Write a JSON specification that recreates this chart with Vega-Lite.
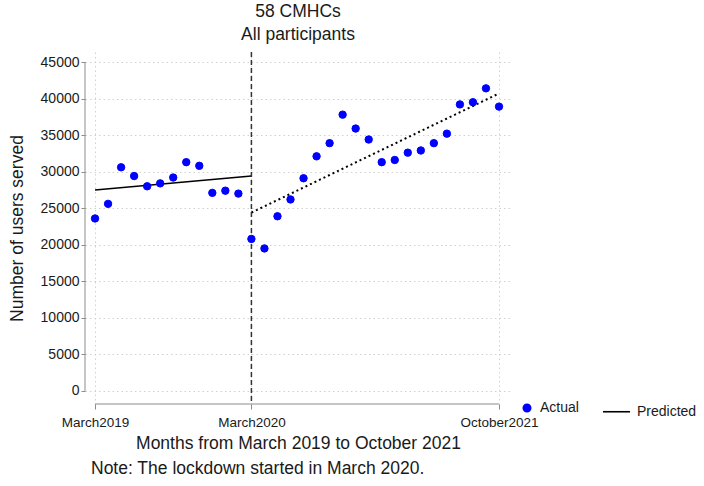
{
  "$schema": "https://vega.github.io/schema/vega-lite/v6.json",
  "padding": {"left": 8, "top": 2, "right": 5, "bottom": 5},
  "background": "white",
  "config": {
    "font": "Liberation Sans",
    "view": {"stroke": null},
    "axis": {"labelColor": "#1a1a1a", "titleColor": "#1a1a1a", "titleFontWeight": "normal", "labelFont": "Liberation Sans", "titleFont": "Liberation Sans", "labelOverlap": false},
    "legend": {"labelColor": "#1a1a1a", "labelFont": "Liberation Sans"}
  },
  "datasets": {
    "actual": [
      {"month": 0, "users": 23600},
      {"month": 1, "users": 25600},
      {"month": 2, "users": 30600},
      {"month": 3, "users": 29400},
      {"month": 4, "users": 28000},
      {"month": 5, "users": 28400},
      {"month": 6, "users": 29200},
      {"month": 7, "users": 31300},
      {"month": 8, "users": 30800},
      {"month": 9, "users": 27100},
      {"month": 10, "users": 27400},
      {"month": 11, "users": 27000},
      {"month": 12, "users": 20800},
      {"month": 13, "users": 19500},
      {"month": 14, "users": 23900},
      {"month": 15, "users": 26200},
      {"month": 16, "users": 29100},
      {"month": 17, "users": 32100},
      {"month": 18, "users": 33900},
      {"month": 19, "users": 37800},
      {"month": 20, "users": 35900},
      {"month": 21, "users": 34400},
      {"month": 22, "users": 31300},
      {"month": 23, "users": 31600},
      {"month": 24, "users": 32600},
      {"month": 25, "users": 32900},
      {"month": 26, "users": 33900},
      {"month": 27, "users": 35200},
      {"month": 28, "users": 39200},
      {"month": 29, "users": 39500},
      {"month": 30, "users": 41400},
      {"month": 31, "users": 38900}
    ],
    "pre": [
      {"month": 0, "predicted": 27500},
      {"month": 12, "predicted": 29400}
    ],
    "post": [
      {"month": 12, "predicted": 24400},
      {"month": 31, "predicted": 40700}
    ],
    "lockdown": [
      {"month": 12}
    ]
  },
  "title": {
    "text": "Note: The lockdown started in March 2020.",
    "orient": "bottom",
    "anchor": "start",
    "frame": "group",
    "dx": 6,
    "offset": 8,
    "fontSize": 17.5,
    "fontWeight": "normal",
    "color": "#1a1a1a",
    "font": "Liberation Sans"
  },
  "vconcat": [
    {
      "width": 426,
      "height": 352,
      "title": {
        "text": ["58 CMHCs", "All participants"],
        "anchor": "middle",
        "frame": "group",
        "fontSize": 17.5,
        "fontWeight": "normal",
        "lineHeight": 23,
        "color": "#1a1a1a",
        "offset": 8,
        "font": "Liberation Sans"
      },
      "layer": [
        {
          "data": {"values": [{}]},
          "mark": {"type": "rule", "color": "#8c8c8c", "strokeWidth": 1},
          "encoding": {
            "x": {
              "datum": -0.77,
              "type": "quantitative",
              "scale": {"domain": [-0.77, 31.92], "nice": false, "zero": false},
              "axis": {
                "values": [0, 12, 31],
                "labelExpr": "datum.value == 0 ? 'March2019' : datum.value == 12 ? 'March2020' : 'October2021'",
                "title": "Months from March 2019 to October 2021",
                "titleFontSize": 17.5,
                "titlePadding": 6,
                "labelFontSize": 13.5,
                "labelPadding": 6,
                "labelFlush": false,
                "labelOverlap": false,
                "domain": false,
                "tickColor": "#8c8c8c",
                "tickSize": 5,
                "grid": true,
                "gridColor": "#d0d0d0",
                "gridDash": [1.5, 3],
                "gridWidth": 1
              }
            },
            "y": {
              "datum": 0,
              "type": "quantitative",
              "scale": {"domain": [-1780, 46370], "nice": false, "zero": false},
              "axis": {
                "tickCount": 10,
                "tickMinStep": 5000,
                "format": ".0f",
                "title": "Number of users served",
                "titleFontSize": 17.5,
                "titlePadding": 14,
                "labelFontSize": 14,
                "labelPadding": 2,
                "labelOverlap": false,
                "labelFlush": false,
                "domain": false,
                "tickColor": "#8c8c8c",
                "tickSize": 4,
                "grid": true,
                "gridColor": "#d0d0d0",
                "gridDash": [1.5, 3],
                "gridWidth": 1
              }
            },
            "y2": {"datum": 45000}
          }
        },
        {
          "data": {"values": [{}]},
          "mark": {"type": "rule", "color": "#8c8c8c", "strokeWidth": 1},
          "encoding": {
            "y": {"datum": -1780, "type": "quantitative"},
            "x": {"datum": 0, "type": "quantitative"},
            "x2": {"datum": 31}
          }
        },
        {
          "data": {"name": "pre"},
          "mark": {"type": "line", "color": "#000000", "strokeWidth": 1.6},
          "encoding": {
            "x": {"field": "month", "type": "quantitative"},
            "y": {"field": "predicted", "type": "quantitative"}
          }
        },
        {
          "data": {"name": "post"},
          "mark": {"type": "line", "color": "#000000", "strokeWidth": 2, "strokeDash": [2, 3]},
          "encoding": {
            "x": {"field": "month", "type": "quantitative"},
            "y": {"field": "predicted", "type": "quantitative"}
          }
        },
        {
          "data": {"name": "lockdown"},
          "mark": {"type": "rule", "color": "#333333", "strokeWidth": 1.5, "strokeDash": [5, 3]},
          "encoding": {
            "x": {"field": "month", "type": "quantitative"}
          }
        },
        {
          "data": {"name": "actual"},
          "mark": {"type": "point", "filled": true, "opacity": 1, "strokeWidth": 1},
          "encoding": {
            "x": {"field": "month", "type": "quantitative"},
            "y": {"field": "users", "type": "quantitative"},
            "color": {
              "datum": "Actual",
              "type": "nominal",
              "scale": {"domain": ["Actual", "Predicted"], "range": ["#0000ff", "#000000"]},
              "legend": {
                "title": null,
                "orient": "none",
                "direction": "horizontal",
                "legendX": 435,
                "legendY": 345,
                "labelFontSize": 14,
                "labelOffset": 6,
                "columnPadding": 20,
                "symbolStrokeWidth": 1.6
              }
            },
            "stroke": {
              "datum": "Actual",
              "type": "nominal",
              "scale": {"domain": ["Actual", "Predicted"], "range": ["#0000ff", "#000000"]}
            },
            "shape": {
              "datum": "Actual",
              "type": "nominal",
              "scale": {"domain": ["Actual", "Predicted"], "range": ["circle", "stroke"]}
            },
            "size": {
              "datum": "Actual",
              "type": "nominal",
              "scale": {"domain": ["Actual", "Predicted"], "range": [55, 729]}
            }
          }
        }
      ]
    }
  ]
}
